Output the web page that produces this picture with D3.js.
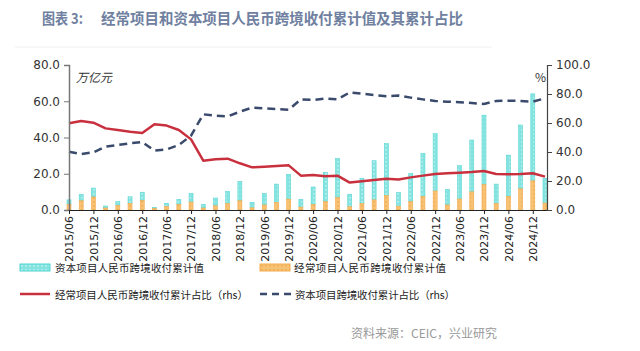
<!DOCTYPE html>
<html>
<head>
<meta charset="utf-8">
<script src="https://cdn.jsdelivr.net/npm/d3@7"></script>
<style>
  body { margin: 0; background: #fff; }
  svg { display: block; font-family: "Noto Sans CJK SC", "Noto Sans", sans-serif; }
</style>
</head>
<body>
<svg id="chart" width="640" height="351"></svg>
<script>
// quarterly, year-to-date cumulative values
const quarters = [
  "2015/06", "2015/09", "2015/12",
  "2016/03", "2016/06", "2016/09", "2016/12",
  "2017/03", "2017/06", "2017/09", "2017/12",
  "2018/03", "2018/06", "2018/09", "2018/12",
  "2019/03", "2019/06", "2019/09", "2019/12",
  "2020/03", "2020/06", "2020/09", "2020/12",
  "2021/03", "2021/06", "2021/09", "2021/12",
  "2022/03", "2022/06", "2022/09", "2022/12",
  "2023/03", "2023/06", "2023/09", "2023/12",
  "2024/03", "2024/06", "2024/09", "2024/12",
  "2025/03"
];

// 经常项目人民币跨境收付累计值 (万亿元)
const currentValue = [
  3.0, 5.1, 7.2,
  1.1, 2.4, 3.7, 5.2,
  0.8, 2.0, 3.0, 4.4,
  1.1, 2.3, 3.5, 5.1,
  1.2, 2.8, 4.2, 6.0,
  1.6, 3.0, 4.6, 6.8,
  1.8, 3.5, 5.6, 7.9,
  2.1, 4.6, 7.4, 10.5,
  2.8, 6.1, 10.0, 14.0,
  3.6, 7.5, 11.7, 16.1,
  3.8
];

// 资本项目人民币跨境收付累计值 (万亿元)
const capitalValue = [
  2.6, 3.5, 4.9,
  1.1, 2.2, 3.6, 4.6,
  0.7, 1.7, 2.9, 4.8,
  2.0, 4.3, 6.8, 10.7,
  3.0, 6.4, 10.1, 13.7,
  4.3, 9.7, 16.2, 21.6,
  6.9, 14.0, 21.6, 28.7,
  7.5, 15.6, 23.9, 31.6,
  8.6, 18.4, 28.6, 38.3,
  10.7, 22.8, 35.2, 48.0,
  13.7
];

// 经常项目人民币跨境收付累计占比 (%)
const currentShare = [
  59.8, 61.4, 60.2,
  56.3, 55.2, 54.0, 53.1,
  59.1, 58.2, 55.2, 48.7,
  34.0, 35.0, 35.4, 32.2,
  29.4, 29.9, 30.3, 30.8,
  23.7, 24.1, 23.2, 23.7,
  18.9, 19.8, 20.7, 21.6,
  21.1, 22.5, 23.7, 24.8,
  25.3, 25.7, 26.2, 26.9,
  24.8, 24.6, 24.8, 25.3,
  23.0
];

// 资本项目跨境收付累计占比 (%)
const capitalShare = [
  40.2, 38.6, 39.8,
  43.7, 44.8, 46.0, 46.9,
  40.9, 41.8, 44.8, 51.3,
  66.0, 65.0, 64.6, 67.8,
  70.6, 70.1, 69.7, 69.2,
  76.3, 75.9, 76.8, 76.3,
  81.1, 80.2, 79.3, 78.4,
  78.9, 77.5, 76.3, 75.2,
  74.7, 74.3, 73.8, 73.1,
  75.2, 75.4, 75.2, 74.7,
  77.0
];

const leftTicks = [0, 20, 40, 60, 80];
const rightTicks = [0, 20, 40, 60, 80, 100];

const RED = "#C9303E";
const NAVY = "#3A4A6C";

const svg = d3.select("#chart");
const defs = svg.append("defs");

// cyan hatch
const pc = defs.append("pattern")
  .attr("id", "cyanHatch")
  .attr("patternUnits", "userSpaceOnUse")
  .attr("width", 4).attr("height", 4);
pc.append("rect").attr("width", 4).attr("height", 4).attr("fill", "#86E4E0");
pc.append("rect").attr("x", 1.5).attr("y", 1).attr("width", 1).attr("height", 1.5).attr("fill", "#E0F9F8");

// orange hatch
const po = defs.append("pattern")
  .attr("id", "orangeHatch")
  .attr("patternUnits", "userSpaceOnUse")
  .attr("width", 4).attr("height", 4);
po.append("rect").attr("width", 4).attr("height", 4).attr("fill", "#F8C275");
po.append("rect").attr("x", 1.5).attr("y", 1).attr("width", 1).attr("height", 1.5).attr("fill", "#E8A040");

// title
const title = svg.append("g")
  .attr("fill", "#6F80A0")
  .style("font-size", "15px")
  .style("font-weight", "bold");
title.append("text").attr("x", 42).attr("y", 24)
  .attr("textLength", 41).attr("lengthAdjust", "spacingAndGlyphs")
  .text("图表 3:");
title.append("text").attr("x", 101).attr("y", 24)
  .attr("textLength", 362).attr("lengthAdjust", "spacingAndGlyphs")
  .text("经常项目和资本项目人民币跨境收付累计值及其累计占比");

svg.append("line")
  .attr("x1", 15).attr("x2", 492).attr("y1", 47).attr("y2", 47)
  .attr("stroke", "#f0f0f0");

const x = d3.scalePoint().domain(quarters).range([69, 545]);
const yL = d3.scaleLinear().domain([0, 80]).range([210, 65]);
const yR = d3.scaleLinear().domain([0, 100]).range([210, 65]);

// bars: stacked, current at bottom
const barW = 4;
const stacked = quarters.map((q, i) => ({ q, cur: currentValue[i], cap: capitalValue[i] }));

svg.append("g").selectAll("rect")
  .data(stacked)
  .join("rect")
  .attr("x", d => x(d.q) - barW / 2)
  .attr("width", barW)
  .attr("y", d => yL(d.cur + d.cap))
  .attr("height", d => yL(d.cur) - yL(d.cur + d.cap))
  .attr("fill", "url(#cyanHatch)")
  .attr("stroke", "#5AD8D4")
  .attr("stroke-width", 0.6);

svg.append("g").selectAll("rect")
  .data(stacked)
  .join("rect")
  .attr("x", d => x(d.q) - barW / 2)
  .attr("width", barW)
  .attr("y", d => yL(d.cur))
  .attr("height", d => yL(0) - yL(d.cur))
  .attr("fill", "url(#orangeHatch)")
  .attr("stroke", "#F4A94A")
  .attr("stroke-width", 0.6);

// lines
const line = d3.line().x(d => x(d[0])).y(d => yR(d[1]));

svg.append("path")
  .datum(quarters.map((q, i) => [q, capitalShare[i]]))
  .attr("d", line)
  .attr("fill", "none")
  .attr("stroke", NAVY)
  .attr("stroke-width", 2.5)
  .attr("stroke-dasharray", "8,5");

svg.append("path")
  .datum(quarters.map((q, i) => [q, currentShare[i]]))
  .attr("d", line)
  .attr("fill", "none")
  .attr("stroke", RED)
  .attr("stroke-width", 2.5)
  .attr("stroke-linejoin", "round");

// axes
const axisFont = g => g.selectAll("text")
  .style("font-family", "'DejaVu Sans', sans-serif")
  .style("font-size", "12px")
  .attr("fill", "#333");

svg.append("g")
  .attr("transform", "translate(69,0)")
  .call(d3.axisLeft(yL).tickValues(leftTicks).tickFormat(d3.format(".1f")).tickSize(5).tickPadding(4))
  .call(g => g.select(".domain").attr("stroke", "#777").attr("stroke-width", 1.5))
  .call(g => g.selectAll(".tick line").attr("stroke", "#777"))
  .call(axisFont);

svg.append("g")
  .attr("transform", "translate(547,0)")
  .call(d3.axisRight(yR).tickValues(rightTicks).tickFormat(d3.format(".1f")).tickSize(5).tickPadding(4))
  .call(g => g.select(".domain").attr("stroke", "#444").attr("stroke-width", 1.2))
  .call(g => g.selectAll(".tick line").attr("stroke", "#444"))
  .call(axisFont);

svg.append("g")
  .attr("transform", "translate(0,210)")
  .call(d3.axisBottom(x).tickValues(quarters.filter((q, i) => i % 2 === 0)).tickSize(4).tickSizeOuter(0))
  .call(g => g.select(".domain").attr("stroke", "#222").attr("stroke-width", 1.2).attr("d", "M69,0.5H547"))
  .call(g => g.selectAll(".tick line").attr("stroke", "#222"))
  .call(g => g.selectAll("text")
    .attr("transform", "rotate(-90)")
    .attr("text-anchor", "end")
    .attr("x", -6).attr("y", 0).attr("dy", "0.35em")
    .style("font-family", "'DejaVu Sans', sans-serif")
    .style("font-size", "11px")
    .attr("fill", "#222"));

svg.append("text")
  .attr("x", 76).attr("y", 82)
  .style("font-size", "12px").style("font-style", "italic")
  .attr("fill", "#333")
  .text("万亿元");

svg.append("text")
  .attr("x", 535).attr("y", 82)
  .style("font-size", "12px")
  .attr("fill", "#333")
  .text("%");

// legend
const legend = svg.append("g").style("font-size", "10.5px").attr("fill", "#222");

legend.append("rect").attr("x", 20).attr("y", 264).attr("width", 30).attr("height", 7)
  .attr("fill", "url(#cyanHatch)").attr("stroke", "#4FD6D2");
legend.append("text").attr("x", 55).attr("y", 272)
  .attr("textLength", 149).attr("lengthAdjust", "spacing")
  .text("资本项目人民币跨境收付累计值");

legend.append("rect").attr("x", 260).attr("y", 264).attr("width", 30).attr("height", 7)
  .attr("fill", "url(#orangeHatch)").attr("stroke", "#F4A94A");
legend.append("text").attr("x", 294).attr("y", 272)
  .attr("textLength", 152).attr("lengthAdjust", "spacing")
  .text("经常项目人民币跨境收付累计值");

legend.append("line").attr("x1", 20).attr("x2", 50).attr("y1", 294).attr("y2", 294)
  .attr("stroke", RED).attr("stroke-width", 2.5);
legend.append("text").attr("x", 55).attr("y", 299)
  .attr("textLength", 193).attr("lengthAdjust", "spacing")
  .text("经常项目人民币跨境收付累计占比（rhs）");

legend.append("line").attr("x1", 260).attr("x2", 291).attr("y1", 294).attr("y2", 294)
  .attr("stroke", NAVY).attr("stroke-width", 2.5).attr("stroke-dasharray", "7,5");
legend.append("text").attr("x", 295).attr("y", 299)
  .attr("textLength", 160).attr("lengthAdjust", "spacing")
  .text("资本项目跨境收付累计占比（rhs）");

// source
svg.append("text")
  .attr("x", 497).attr("y", 338)
  .attr("text-anchor", "end")
  .style("font-size", "12px")
  .attr("fill", "#999")
  .text("资料来源：CEIC，兴业研究");
</script>
</body>
</html>
